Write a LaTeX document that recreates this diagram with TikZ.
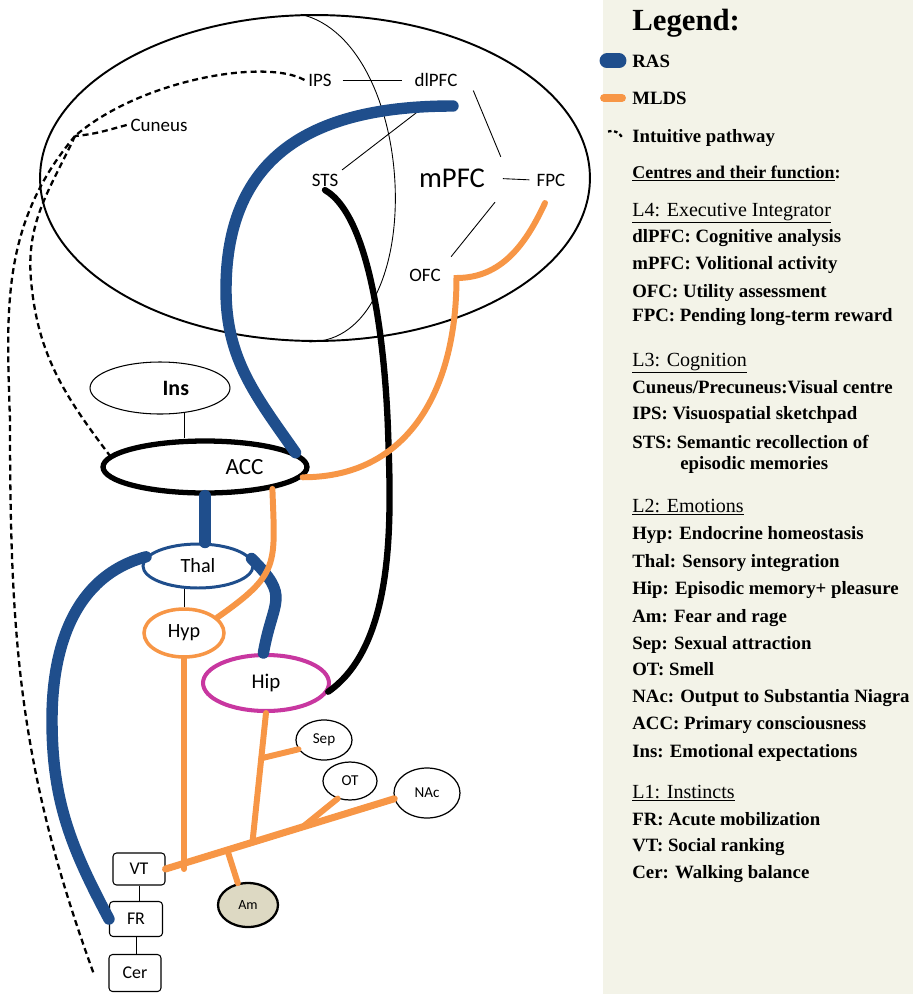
\documentclass[tikz,border=0pt]{standalone}
\usepackage{fontspec}
\setmainfont{Liberation Serif}
\newfontfamily\labfont{Carlito}
\usetikzlibrary{shapes.geometric, calc, positioning}
\definecolor{cRAS}{RGB}{31,78,140}
\definecolor{cMLDS}{RGB}{247,150,70}
\definecolor{cHip}{RGB}{200,55,160}
\definecolor{cAm}{RGB}{221,217,195}
\definecolor{cPanel}{RGB}{243,243,232}
\tikzset{
	region/.style  ={ellipse, draw=black, line width=0.6pt, fill=white, inner sep=0pt, font=\labfont\fontsize{11.5}{13}\selectfont},
	centre/.style  ={inner sep=2pt, font=\labfont\fontsize{10.8}{12}\selectfont},
	nucleus/.style ={ellipse, draw=black, line width=0.7pt, fill=white, inner sep=0pt, font=\labfont\fontsize{8.6}{10}\selectfont},
	instinct/.style={rectangle, rounded corners=2pt, draw=black, line width=0.6pt, fill=white, inner sep=0pt, font=\labfont\fontsize{10.2}{12}\selectfont},
	% pathways
	ras/.style     ={draw=cRAS, line width=6.5pt, line cap=round},
	mlds/.style    ={draw=cMLDS, line width=3.4pt, line cap=round},
	semantic/.style={draw=black, line width=3.6pt, line cap=round},
	intuit/.style  ={draw=black, line width=1.3pt, dash pattern=on 3.4pt off 2.2pt},
	link/.style    ={draw=black, line width=0.5pt},
	% legend
	keyhead/.style ={anchor=base west, inner sep=0pt, font=\bfseries\fontsize{17.5}{20}\selectfont},
	keyitem/.style ={anchor=base west, inner sep=0pt, font=\bfseries\fontsize{10.7}{12}\selectfont},
	keylevel/.style={anchor=base west, inner sep=0pt, font=\fontsize{11.4}{13}\selectfont},
}

\begin{document}
\begin{tikzpicture}[x=0.02cm, y=0.02cm]
	\useasboundingbox (0,0) rectangle (913,-994);
	\fill[cPanel] (603,0) rectangle (913,-994);

	% cortex and its centres
	\node[ellipse, draw=black, line width=1.1pt, minimum width=11cm, minimum height=6.52cm, inner sep=0pt] (cortex) at (315,-178) {};
	\draw[link] (cortex.95) to[out=-13,in=0,looseness=0.95] (cortex.-92);
	\node[centre] (ips) at (320,-80) {IPS};
	\node[centre] (dlpfc) at (436,-80) {dlPFC};
	\node[centre] (cuneus) at (159,-125) {Cuneus};
	\node[centre] (sts) at (325,-180) {STS};
	\node[centre, font=\labfont\fontsize{16.3}{18}\selectfont] (mpfc) at (452,-178) {mPFC};
	\node[centre] (fpc) at (551,-180) {FPC};
	\node[centre] (ofc) at (425,-275) {OFC};

	% limbic centres
	\node[region, minimum width=2.8cm, minimum height=1.04cm, font=\labfont\bfseries\fontsize{12.5}{14}\selectfont] (ins) at (160,-388) {\hspace*{18pt}Ins};
	\node[region, line width=3pt, minimum width=4.08cm, minimum height=1.04cm, font=\labfont\fontsize{13.2}{15}\selectfont] (acc) at (205,-467) {\hspace*{45pt}ACC};
	\node[region, draw=cRAS, line width=1.7pt, minimum width=2.2cm, minimum height=0.88cm] (thal) at (198,-566) {Thal};
	\node[region, draw=cMLDS, line width=2pt, minimum width=1.6cm, minimum height=0.96cm] (hyp) at (184,-633) {Hyp};
	\node[region, draw=cHip, line width=2.3pt, minimum width=2.52cm, minimum height=1.12cm, font=\labfont\fontsize{11.9}{13}\selectfont] (hip) at (266,-683) {Hip};
	\node[nucleus, minimum width=1.12cm, minimum height=0.8cm] (sep) at (324,-740) {Sep};
	\node[nucleus, minimum width=1.08cm, minimum height=0.76cm] (ot) at (350,-781) {OT};
	\node[nucleus, minimum width=1.32cm, minimum height=1.0cm] (nac) at (427,-793) {NAc};
	\node[nucleus, fill=cAm, line width=1.3pt, minimum width=1.2cm, minimum height=0.88cm, font=\labfont\fontsize{8}{10}\selectfont] (am) at (248,-905) {Am};

	% instinct centres
	\node[instinct, minimum width=1.04cm, minimum height=0.64cm] (vt) at (139,-869) {VT};
	\node[instinct, minimum width=1.06cm, minimum height=0.7cm] (fr) at (136,-919) {FR};
	\node[instinct, minimum width=1.04cm, minimum height=0.74cm] (cer) at (135,-973) {Cer};

	% thin links
	\draw[link, shorten <=4pt, shorten >=5pt] (ips.east) -- (dlpfc.west);
	\draw[link] ([xshift=0.24cm]dlpfc.south east) -- ([xshift=0.24cm, yshift=0.16cm]mpfc.north east);
	\draw[link] (sts.north east) -- ($(dlpfc.south)+(-9,-14)$);
	\draw[link, shorten <=8pt, shorten >=2pt] (mpfc.east) -- (fpc.west);
	\draw[link, shorten <=8pt, shorten >=6pt] ([xshift=0.3cm]mpfc.south east) -- (ofc.north east);
	\draw[link] (ins.-45) -- (ins.-45 |- acc.north);
	\draw[link] (hyp.north) -- (hyp.north |- thal.south);
	\draw[link] (vt.south) -- (vt.south |- fr.north);
	\draw[link] (fr.south) -- (fr.south |- cer.north);

	% intuitive pathway
	\coordinate (intJ) at (75,-136);
	\draw[intuit] (ips.west) .. controls (265,-58) and (140,-80) .. (intJ);
	\draw[intuit] (cuneus.west) to[out=-165,in=5] (intJ);
	\draw[intuit] (intJ) to[out=-130,in=92] (10,-420) to[out=-90,in=110] ([xshift=-0.3cm]cer.west);
	\draw[intuit] (intJ) to[out=-115,in=95] (31,-280) to[out=-85,in=127] (acc.173);

	% RAS
	\coordinate (rasTop) at (453,-106);
	\draw[ras] (rasTop) to[out=180,in=90,looseness=1.2] (226,-290) to[out=-90,in=125] (acc.9);
	\draw[ras] (acc.south) -- (acc.south |- thal.north);
	\draw[ras] (thal.170) to[out=195,in=90] (52,-720) to[out=-90,in=118] (fr.west);
	\draw[ras] (thal.8) to[out=-45,in=80,looseness=1.5] (hip.95);

	% STS to Hip
	\draw[semantic] (sts.south) to[out=-30,in=92,looseness=0.6] (388,-430) to[out=-88,in=35,looseness=0.8] (hip.-8);

	% MLDS
	\coordinate (mldsTop) at (545,-203);
	\coordinate (ofcJ) at ($(ofc.east)+(12,-3)$);
	\draw[mlds] (mldsTop) to[out=-115,in=0] (ofcJ) to[out=-90,in=0,looseness=1.1] (acc.-6);
	\draw[mlds] (acc.-18) to[out=-88,in=35,looseness=1.4] (hyp.25);
	\draw[mlds, line width=4pt] (vt.east) -- (nac.190);
	\draw[mlds] (hyp.south) -- (hyp.south |- vt.east);
	\coordinate (tHip) at ($(vt.east)!0.38!(nac.190)$);
	\coordinate (tSep) at ($(hip.south)!0.35!(tHip)$);
	\coordinate (tOT) at ($(vt.east)!0.6!(nac.190)$);
	\coordinate (tAm) at ($(vt.east)!0.27!(nac.190)$);
	\draw[mlds] (hip.south) -- (tHip);
	\draw[mlds] (tSep) -- (sep.200);
	\draw[mlds] (tOT) -- (ot.235);
	\draw[mlds] (tAm) -- (am.115);

	% legend
	\node[keyhead] (lghead) at (632,-30) {Legend:};
	\node[keyitem] (lgras) at (632,-67) {RAS};
	\draw[ras, line width=8.5pt] ($(lgras.west)+(-25,0)$) -- ++(12,0);
	\node[keyitem] (lgmlds) at (632,-104) {MLDS};
	\draw[mlds, line width=4.5pt] ($(lgmlds.west)+(-28,0)$) -- ++(18,0);
	\node[keyitem] (lgint) at (632,-142) {Intuitive pathway};
	\draw[intuit, dash pattern=on 2pt off 1.5pt] ($(lgint.west)+(-24,6)$) to[out=20,in=120] ($(lgint.west)+(-9,-1)$);
	\node[keyitem, font=\bfseries\fontsize{10.2}{12}\selectfont] (lgcentres) at (632,-178) {\underline{Centres and their function}:};

	\node[keylevel] (lgfour) at (632,-216) {\underline{L4: Executive Integrator}};
	\node[keyitem] (lgdlpfc) at (632,-242) {dlPFC: Cognitive analysis};
	\node[keyitem] (lgmpfc) at (632,-269) {mPFC: Volitional activity};
	\node[keyitem] (lgofc) at (632,-297) {OFC: Utility assessment};
	\node[keyitem] (lgfpc) at (632,-321) {FPC: Pending long-term reward};

	\node[keylevel] (lgthree) at (632,-366) {\underline{L3: Cognition}};
	\node[keyitem] (lgcuneus) at (632,-393) {Cuneus/Precuneus:Visual centre};
	\node[keyitem] (lgips) at (632,-419) {IPS: Visuospatial sketchpad};
	\node[keyitem] (lgsts) at (632,-448) {STS: Semantic recollection of};
	\node[keyitem] (lgstsb) at (680,-469) {episodic memories};

	\node[keylevel] (lgtwo) at (632,-512) {\underline{L2: Emotions}};
	\node[keyitem] (lghyp) at (632,-539) {Hyp: Endocrine homeostasis};
	\node[keyitem] (lgthal) at (632,-567) {Thal: Sensory integration};
	\node[keyitem] (lghip) at (632,-594) {Hip: Episodic memory+ pleasure};
	\node[keyitem] (lgam) at (632,-622) {Am: Fear and rage};
	\node[keyitem] (lgsep) at (632,-649) {Sep: Sexual attraction};
	\node[keyitem] (lgot) at (632,-675) {OT: Smell};
	\node[keyitem] (lgnac) at (632,-702) {NAc: Output to Substantia Niagra};
	\node[keyitem] (lgacc) at (632,-729) {ACC: Primary consciousness};
	\node[keyitem] (lgins) at (632,-757) {Ins: Emotional expectations};

	\node[keylevel] (lgone) at (632,-798) {\underline{L1: Instincts}};
	\node[keyitem] (lgfr) at (632,-825) {FR: Acute mobilization};
	\node[keyitem] (lgvt) at (632,-851) {VT: Social ranking};
	\node[keyitem] (lgcer) at (632,-878) {Cer: Walking balance};
\end{tikzpicture}
\end{document}
